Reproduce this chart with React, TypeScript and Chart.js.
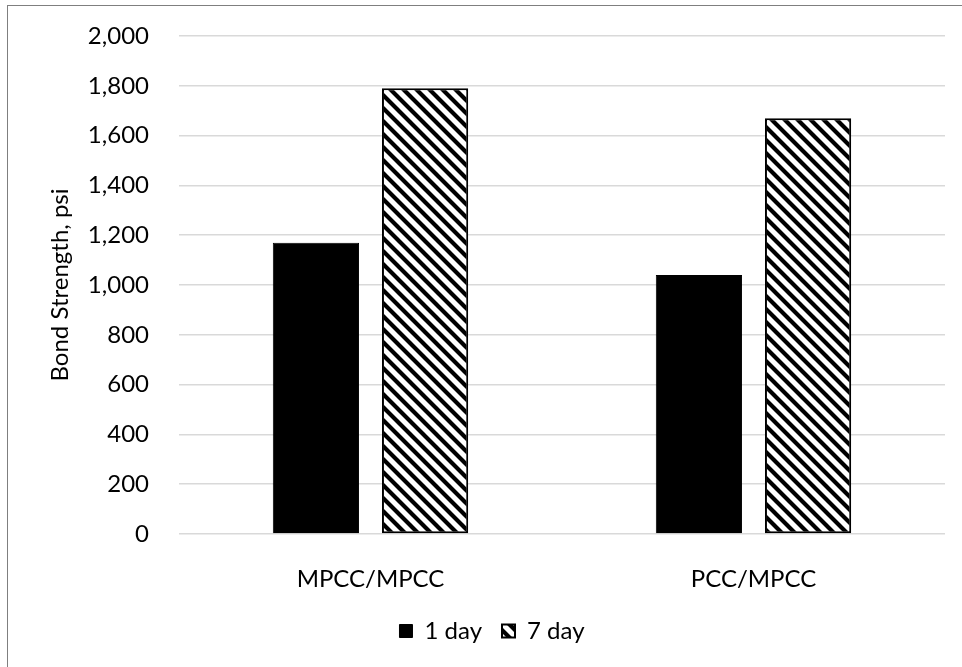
import React, { useEffect, useRef } from "react";
import { Chart, registerables } from "chart.js";

Chart.register(...registerables);

const categories = ["MPCC/MPCC", "PCC/MPCC"];
const oneDay = [1170, 1040];
const sevenDay = [1790, 1670];
const seriesNames = ["1 day", "7 day"];
const yTicks = [0, 200, 400, 600, 800, 1000, 1200, 1400, 1600, 1800, 2000];

const FONT = "Lato, 'Open Sans', sans-serif";
const FONT_SIZE = 24;

// Diagonal "\" hatch used for the 7-day bars
function makeHatch(): CanvasPattern | string {
  const size = 13;
  const c = document.createElement("canvas");
  c.width = size;
  c.height = size;
  const g = c.getContext("2d");
  if (!g) return "#fff";
  g.fillStyle = "#ffffff";
  g.fillRect(0, 0, size, size);
  g.strokeStyle = "#000000";
  g.lineWidth = 4.2;
  g.lineCap = "square";
  for (let k = -1; k <= 1; k++) {
    g.beginPath();
    g.moveTo(-2, k * size - 2);
    g.lineTo(size + 2, k * size + size + 2);
    g.stroke();
  }
  const p = g.createPattern(c, "repeat");
  return p || "#fff";
}

export default function App() {
  const ref = useRef<HTMLCanvasElement | null>(null);

  useEffect(() => {
    const canvas = ref.current;
    if (!canvas) return;
    const hatch = makeHatch();
    const chart = new Chart(canvas, {
      type: "bar",
      data: {
        labels: categories,
        datasets: [
          {
            label: seriesNames[0],
            data: oneDay,
            backgroundColor: "#000000",
            borderColor: "#000000",
            borderWidth: 1,
            categoryPercentage: 0.57,
            barPercentage: 0.79,
          },
          {
            label: seriesNames[1],
            data: sevenDay,
            backgroundColor: hatch as any,
            borderColor: "#000000",
            borderWidth: 2,
            borderSkipped: false,
            categoryPercentage: 0.57,
            barPercentage: 0.79,
          },
        ],
      },
      options: {
        responsive: false,
        animation: false,
        devicePixelRatio: 1,
        layout: {
          padding: { top: 30, left: 31, right: 17, bottom: 14 },
        },
        plugins: {
          tooltip: { enabled: false },
          legend: {
            position: "bottom",
            labels: {
              color: "#000",
              font: { family: FONT, size: FONT_SIZE },
              boxWidth: 13,
              boxHeight: 13,
              padding: 20,
            },
          },
        },
        scales: {
          x: {
            grid: { display: false, drawTicks: false },
            border: { display: false },
            ticks: {
              color: "#000",
              font: { family: FONT, size: FONT_SIZE },
              padding: 31,
            },
            afterFit: (s: any) => {
              s.height = 65;
            },
          },
          y: {
            min: 0,
            max: 2000,
            afterBuildTicks: (s: any) => {
              s.ticks = yTicks.map((v) => ({ value: v }));
            },
            grid: { color: "#d9d9d9", lineWidth: 1.5, drawTicks: false },
            border: { display: false },
            ticks: {
              color: "#000",
              font: { family: FONT, size: FONT_SIZE },
              padding: 30,
              callback: (v: any) => Number(v).toLocaleString("en-US"),
            },
            title: {
              display: true,
              text: "Bond Strength, psi",
              color: "#000",
              font: { family: FONT, size: FONT_SIZE },
              padding: { top: 7, bottom: 0 },
            },
            afterFit: (s: any) => {
              s.width = 140;
              s.paddingTop = 0;
              s.paddingBottom = 0;
            },
          },
        },
      },
    });
    return () => chart.destroy();
  }, []);

  return (
    <div
      style={{
        position: "absolute",
        left: 7,
        top: 5,
        width: 955,
        height: 662,
        borderLeft: "1px solid #7f7f7f",
        borderTop: "1px solid #7f7f7f",
        background: "#fff",
        overflow: "hidden",
      }}
    >
      <canvas ref={ref} width={954} height={661} style={{ display: "block" }} />
    </div>
  );
}
